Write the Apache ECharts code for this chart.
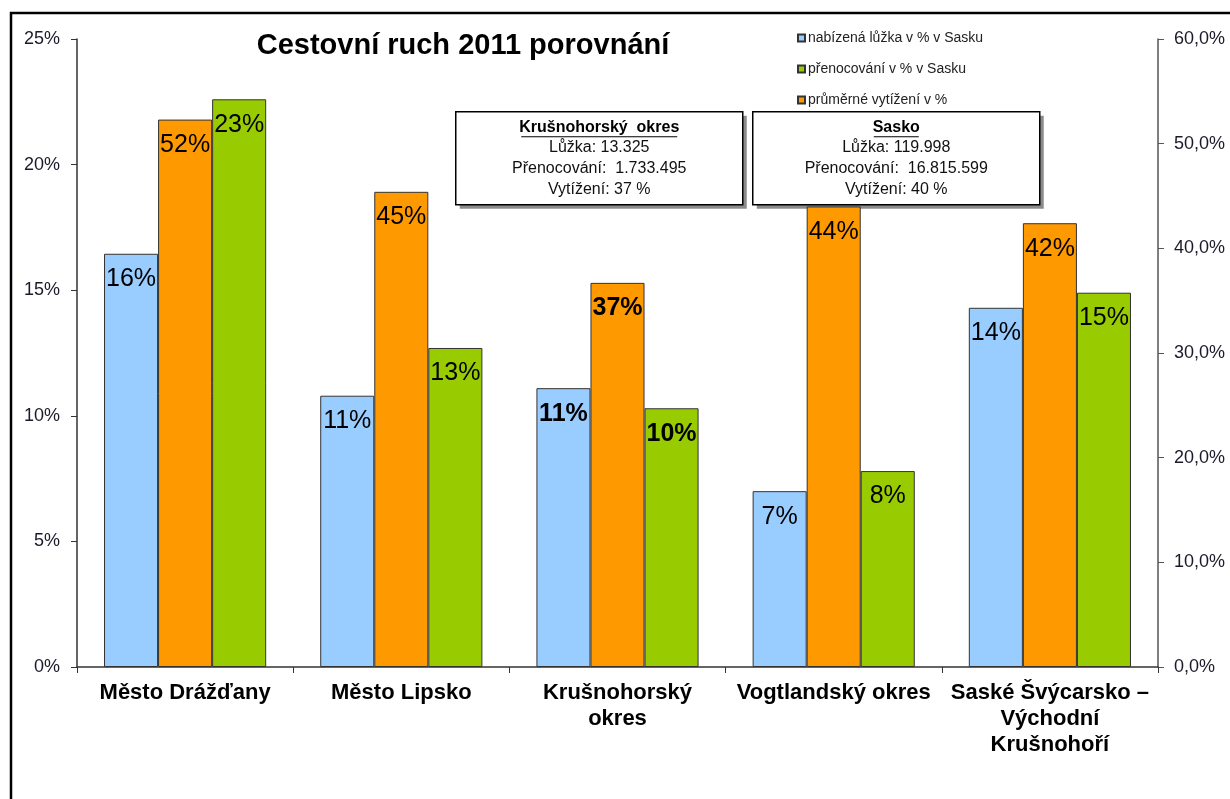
<!DOCTYPE html>
<html>
<head>
<meta charset="utf-8">
<script src="https://cdn.jsdelivr.net/npm/echarts@6/dist/echarts.min.js"></script>
<style>
  html, body { margin: 0; padding: 0; background: #fff; }
  #chart { width: 1230px; height: 799px; }
</style>
</head>
<body>
<div id="chart"></div>
<script>
// categories (regions)
const regions = [
  "Město Drážďany",
  "Město Lipsko",
  "Krušnohorský\nokres",
  "Vogtlandský okres",
  "Saské Švýcarsko –\nVýchodní\nKrušnohoří"
];

// beds offered, % of Saxony (left axis)
const beds = [16.45, 10.8, 11.1, 7.0, 14.3];
// overnight stays, % of Saxony (left axis)
const stays = [22.6, 12.7, 10.3, 7.8, 14.9];
// average occupancy, % (right axis)
const occupancy = [52.3, 45.4, 36.7, 44.0, 42.4];

const seriesNames = [
  "nabízená lůžka v % v Sasku",
  "přenocování v % v Sasku",
  "průměrné vytížení v %"
];

// info boxes
const boxKrusno = ["Krušnohorský  okres", "Lůžka: 13.325", "Přenocování:  1.733.495", "Vytížení: 37 %"];
const boxSasko = ["Sasko", "Lůžka: 119.998", "Přenocování:  16.815.599", "Vytížení: 40 %"];

const chart = echarts.init(document.getElementById("chart"));
const font = "Liberation Sans, Arial, sans-serif";

// bold labels for the highlighted region
const toData = (arr) => arr.map((v, i) => ({
  value: v,
  label: i === 2 ? { fontWeight: "bold" } : undefined,
}));

const barLabel = {
  show: true,
  position: "insideTop",
  distance: 13,
  color: "#000",
  fontSize: 25,
  fontFamily: font,
  formatter: (p) => Math.round(p.value) + "%",
};

function infoBox(x, lines, ulWidth) {
  const w = 287, h = 93;
  return {
    type: "group",
    left: x,
    top: 111,
    z: 100,
    children: [
      { type: "rect", shape: { x: 4, y: 4, width: w, height: h }, style: { fill: "#8c8c8c" } },
      { type: "rect", shape: { x: 0, y: 0, width: w, height: h }, style: { fill: "#fff", stroke: "#000", lineWidth: 1.5 } },
      {
        type: "text", x: w / 2, y: 16,
        style: { text: lines[0], fontFamily: font, fontSize: 16, fontWeight: "bold", fill: "#000", align: "center", verticalAlign: "middle" }
      },
      { type: "line", shape: { x1: w / 2 - ulWidth / 2, y1: 25, x2: w / 2 + ulWidth / 2, y2: 25 }, style: { stroke: "#000", lineWidth: 1 } },
      {
        type: "text", x: w / 2, y: 57,
        style: { text: lines.slice(1).join("\n"), fontFamily: font, fontSize: 16, lineHeight: 21, fill: "#111", align: "center", verticalAlign: "middle" }
      },
    ],
  };
}

const option = {
  backgroundColor: "#fff",
  animation: false,
  title: {
    text: "Cestovní ruch 2011 porovnání",
    left: 458,
    top: 26,
    textAlign: "center",
    textStyle: { fontFamily: font, fontSize: 29, fontWeight: "bold", color: "#000" },
  },
  legend: {
    orient: "vertical",
    left: 792,
    top: 26,
    itemWidth: 7,
    itemHeight: 7,
    itemGap: 17,
    icon: "rect",
    data: [seriesNames[0], seriesNames[1], seriesNames[2]],
    textStyle: { fontFamily: font, fontSize: 14, color: "#222", padding: [0, 0, 0, -2] },
  },
  grid: { left: 77, right: 72, top: 39, bottom: 132 },
  xAxis: {
    type: "category",
    data: regions,
    axisLine: { lineStyle: { color: "#333", width: 1.5 } },
    axisTick: { show: true, length: 6, lineStyle: { color: "#333" } },
    axisLabel: {
      interval: 0,
      margin: 13,
      color: "#000",
      fontFamily: font,
      fontSize: 22,
      fontWeight: "bold",
      lineHeight: 26,
    },
  },
  yAxis: [
    {
      type: "value",
      min: 0,
      max: 25,
      interval: 5,
      splitLine: { show: false },
      axisLine: { show: true, lineStyle: { color: "#333", width: 1.5 } },
      axisTick: { show: true, length: 6, lineStyle: { color: "#333" } },
      axisLabel: { formatter: "{value}%", margin: 17, color: "#1a1a2a", fontFamily: font, fontSize: 18 },
    },
    {
      type: "value",
      min: 0,
      max: 60,
      interval: 10,
      position: "right",
      splitLine: { show: false },
      axisLine: { show: true, lineStyle: { color: "#555", width: 1.5 } },
      axisTick: { show: true, length: 6, lineStyle: { color: "#555" } },
      axisLabel: {
        formatter: (v) => v.toFixed(1).replace(".", ",") + "%",
        margin: 16, color: "#1a1a2a", fontFamily: font, fontSize: 18,
      },
    },
  ],
  series: [
    {
      name: seriesNames[0],
      type: "bar",
      data: toData(beds),
      barGap: "0%",
      barCategoryGap: "25%",
      itemStyle: { color: "#99ccff", borderColor: "#333", borderWidth: 1 },
      label: barLabel,
    },
    {
      name: seriesNames[2],
      type: "bar",
      yAxisIndex: 1,
      data: toData(occupancy),
      barGap: "0%",
      barCategoryGap: "25%",
      itemStyle: { color: "#ff9900", borderColor: "#333", borderWidth: 1 },
      label: barLabel,
    },
    {
      name: seriesNames[1],
      type: "bar",
      data: toData(stays),
      barGap: "0%",
      barCategoryGap: "25%",
      itemStyle: { color: "#99cc00", borderColor: "#333", borderWidth: 1 },
      label: barLabel,
    },
  ],
  graphic: [
    {
      type: "rect",
      z: 200,
      shape: { x: 11, y: 13, width: 1300, height: 900 },
      style: { fill: "none", stroke: "#000", lineWidth: 2.5 },
    },
    infoBox(455, boxKrusno, 156),
    infoBox(752, boxSasko, 45),
  ],
};

chart.setOption(option);
</script>
</body>
</html>
